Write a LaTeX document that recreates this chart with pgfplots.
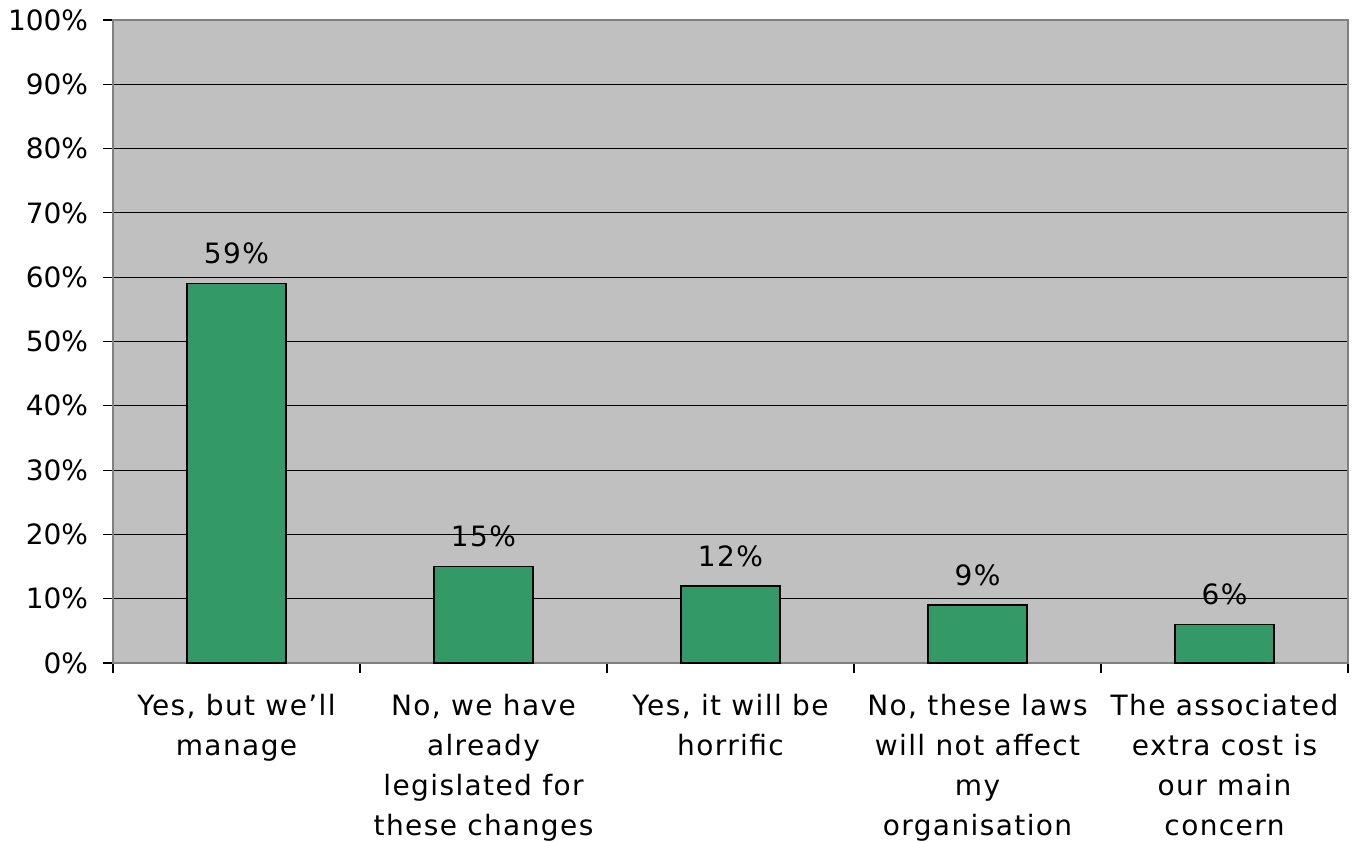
\documentclass[border=0pt]{standalone}
\usepackage{pgfplots}
\pgfplotsset{compat=1.18}
\usepackage{fontspec}
\setmainfont{DejaVu Sans}
\newfontfamily\spaced{DejaVu Sans}[LetterSpace=5]
\usetikzlibrary{calc}
\definecolor{plotbg}{HTML}{C0C0C0}
\definecolor{barfill}{HTML}{339966}
\definecolor{frame}{HTML}{808080}

\pgfplotstableread[col sep=comma]{
idx,share
0,59
1,15
2,12
3,9
4,6
}\answers

\begin{document}
\begin{tikzpicture}
\begin{axis}[
  name=ax,
  scale only axis,
  width=926.25pt, height=482.25pt,
  xmin=-0.5, xmax=4.5,
  ymin=0, ymax=100,
  ytick={0,10,...,100},
  yticklabel={\pgfmathprintnumber{\tick}\%},
  /pgf/number format/assume math mode=true,
  xtick={0,1,2,3,4},
  xticklabels={{Yes, but we’ll\\manage},
               {No, we have\\already\\legislated for\\these changes},
               {Yes, it will be\\horrific},
               {No, these laws\\will not affect\\my\\organisation},
               {The associated\\extra cost is\\our main\\concern}},
  minor xtick={-0.5,0.5,...,4.5},
  major x tick style={draw=none},
  minor tick length=7.5pt,
  major tick length=7.5pt,
  tick align=outside,
  xtick pos=bottom, ytick pos=left,
  tick style={black, line width=0.8pt},
  ymajorgrids,
  grid style={black, line width=0.8pt},
  axis background/.style={fill=plotbg},
  axis line style={draw=frame, line width=1.3pt},
  ticklabel style={inner sep=0pt},
  xticklabel style={font=\spaced\fontsize{21}{30}\selectfont, align=center, anchor=north, yshift=-16pt},
  yticklabel style={font=\fontsize{21}{25}\selectfont, anchor=east, xshift=-11pt},
  ybar,
  bar width=0.4,
  nodes near coords={\pgfmathprintnumber{\pgfplotspointmeta}\%},
  nodes near coords style={font=\spaced\fontsize{21}{25}\selectfont, anchor=south, yshift=14pt, inner sep=0pt},
  clip=false,
]
\addplot[fill=barfill, draw=black, line width=1.1pt] table[x=idx, y=share] {\answers};
\end{axis}
\pgfresetboundingbox
\path ($(ax.south west)+(-84.75pt,-133.5pt)$) rectangle ($(ax.north east)+(4.5pt,15pt)$);
\end{tikzpicture}
\end{document}
